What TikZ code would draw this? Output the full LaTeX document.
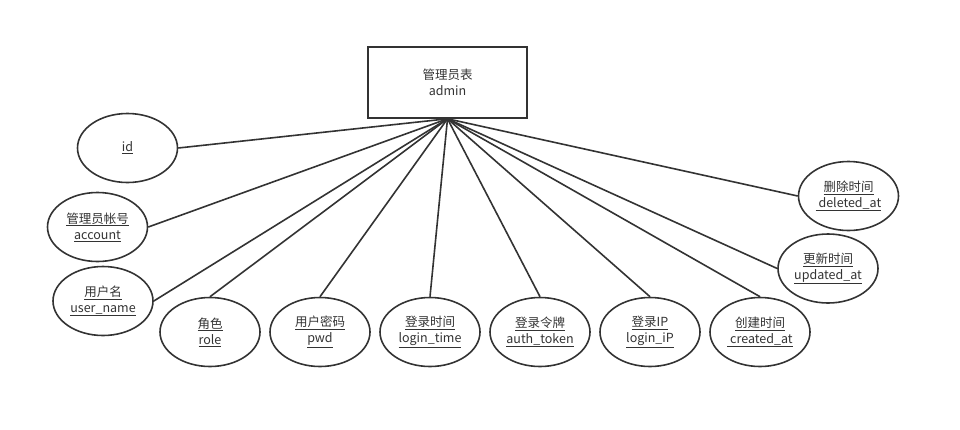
\documentclass[tikz,border=0pt]{standalone}
\usepackage{fontspec}
\usepackage{xcolor}
\setmainfont{Noto Sans CJK SC}
\usetikzlibrary{positioning,shapes.geometric}
\newcommand{\field}[2]{\underline{#1}\\\underline{#2}}
\definecolor{colorLine}{HTML}{333333}

\begin{document}
\begin{tikzpicture}[x=1pt,y=-1pt,node distance=8.4pt,every node/.append style={align=center,text=colorLine,font=\fontsize{12.5}{16}\selectfont},tbl/.style={draw=colorLine, rectangle, line width=1.6pt, minimum width=159pt, minimum height=71pt},attr/.style={draw=colorLine, ellipse, line width=1.6pt, minimum width=100pt, minimum height=69pt, inner sep=0pt},link/.style={draw=colorLine, line width=1.6pt},]
    \useasboundingbox (0,0) rectangle (960,429);
    \node [tbl] (admin) at (447.5,82.5) {管理员表\\admin};
    \node [attr] (id) at (127.5,148) {\underline{id}};
    \node [attr] (account) at (97.5,227) {\field{管理员帐号}{account}};
    \node [attr] (username) at (103,301) {\field{用户名}{user\_name}};
    \node [attr] (role) at (210,332) {\field{角色}{role}};
    \node [attr, right=of role] (pwd) {\field{用户密码}{pwd}};
    \node [attr, right=of pwd] (logintime) {\field{登录时间}{login\_time}};
    \node [attr, right=of logintime] (authtoken) {\field{登录令牌}{auth\_token}};
    \node [attr, right=of authtoken] (loginip) {\field{登录IP}{login\_iP}};
    \node [attr, right=of loginip] (createdat) {\field{创建时间}{\ created\_at}};
    \node [attr] (updatedat) at (828,268.5) {\field{更新时间}{updated\_at}};
    \node [attr] (deletedat) at (848.5,196) {\field{删除时间}{\ deleted\_at}};
    \path[link] (admin.south) edge (id.east);
    \path[link] (admin.south) edge (account.east);
    \path[link] (admin.south) edge (username.east);
    \path[link] (admin.south) edge (role.north);
    \path[link] (admin.south) edge (pwd.north);
    \path[link] (admin.south) edge (logintime.north);
    \path[link] (admin.south) edge (authtoken.north);
    \path[link] (admin.south) edge (loginip.north);
    \path[link] (admin.south) edge (createdat.north);
    \path[link] (admin.south) edge (updatedat.west);
    \path[link] (admin.south) edge (deletedat.west);
\end{tikzpicture}
\end{document}
